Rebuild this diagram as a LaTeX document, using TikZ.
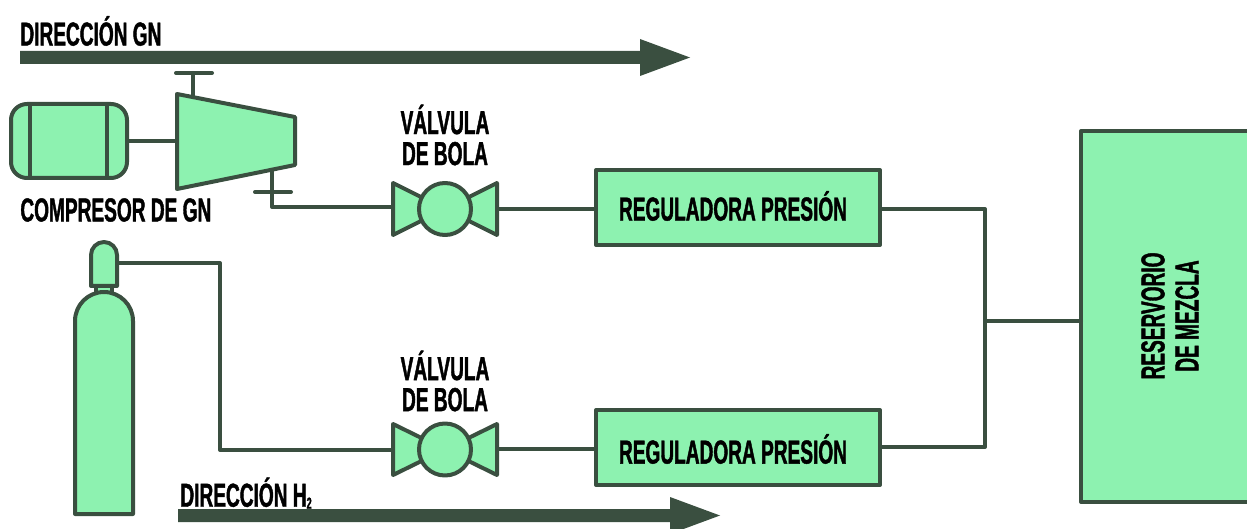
\documentclass[tikz,border=0pt]{standalone}
\usepackage{fontspec}
\setmainfont{Liberation Sans}[BoldFeatures={FakeStretch=0.575,FakeBold=1.2}]
\definecolor{gfill}{HTML}{8DF2B0}
\definecolor{gline}{HTML}{3A4F40}
\tikzset{
  pipe/.style={draw=gline,line width=2pt,line join=round,line cap=round},
  part/.style={pipe,fill=gfill},
  boxnode/.style={part,inner sep=0pt,outer sep=0pt,minimum width=142pt,minimum height=37.5pt},
  ballnode/.style={part,circle,inner sep=0pt,outer sep=0pt,minimum size=26pt},
  label/.style={font=\bfseries\fontsize{16.6}{15.5}\selectfont,text=black,inner sep=0pt,align=center},
  bigarrow/.style={fill=gline,draw=none}
}
\begin{document}
\begin{tikzpicture}[x=0.5pt,y=-0.5pt]
\useasboundingbox (0,0) rectangle (1247,529);
% coordinates
\coordinate (shaftL) at (127,141);
\coordinate (shaftR) at (177,141);
\coordinate (topS) at (193,97);
\coordinate (topB) at (193,73);
\coordinate (botS) at (272,169);
\coordinate (botB) at (272,192);
\coordinate (botC) at (272,207);
\coordinate (valve1L) at (393,207);
\coordinate (valve1R) at (497,209);
\coordinate (valve2L) at (393,450);
\coordinate (valve2R) at (497,449);
\coordinate (h2a) at (118,263);
\coordinate (h2b) at (220,263);
\coordinate (h2c) at (220,450);
\coordinate (j1) at (985,209);
\coordinate (j2) at (985,447);
\coordinate (j3) at (985,321);
% arrows
\fill[bigarrow] (20,51) -- (640,51) -- (640,39) -- (690,57.5) -- (640,76) -- (640,64) -- (20,64) -- cycle;
\fill[bigarrow] (178,509) -- (670,509) -- (670,497) -- (720,515.5) -- (670,534) -- (670,522) -- (178,522) -- cycle;
% boxes
\node[boxnode] (reg1) at (738,207.5) {};
\node[boxnode] (reg2) at (738,447.5) {};
\node[part,inner sep=0pt,outer sep=0pt,minimum width=85pt,minimum height=185.5pt] (tank) at (1166,316.5) {};
% pipes
\draw[pipe] (shaftL) -- (shaftR);
\draw[pipe] (topS) -- (topB);
\draw[pipe] (176,73) -- (212,73);
\draw[pipe] (botS) -- (botC) -- (valve1L);
\draw[pipe] (255,192) -- (291,192);
\draw[pipe] (valve1R) -- (596,209);
\draw[pipe] (valve2R) -- (596,449);
\draw[pipe] (h2a) -- (h2b) -- (h2c) -- (valve2L);
\draw[pipe] (880,209) -- (j1) -- (j2) -- (880,447);
\draw[pipe] (j3) -- (1081,321);
% motor
\draw[part,rounded corners=8pt] (11,104) rectangle (127,178);
\draw[pipe] (30,104) -- (30,178);
\draw[pipe] (107,104) -- (107,178);
% compressor
\draw[part] (177,94) -- (295,117) -- (295,165) -- (177,189) -- cycle;
% valves
\draw[part] (393,183) -- (445,209) -- (393,235) -- cycle;
\draw[part] (497,183) -- (445,209) -- (497,235) -- cycle;
\node[ballnode] (ball1) at (445,209) {};
\draw[part] (393,424) -- (445,449.5) -- (393,475) -- cycle;
\draw[part] (497,424) -- (445,449.5) -- (497,475) -- cycle;
\node[ballnode] (ball2) at (445,449.5) {};
% cylinder
\draw[part] (96,286) rectangle (112,294);
\draw[part] (91,286) -- (91,255) arc[start angle=180,end angle=360,radius=13] -- (117,286) -- cycle;
\draw[part] (75,514) -- (75,321) arc[start angle=180,end angle=360,radius=29] -- (133,514) -- cycle;
% labels
\node[label,anchor=west] (t1) at (20,31) {DIRECCIÓN GN};
\node[label,anchor=west] (t2) at (20,210) {COMPRESOR DE GN};
\node[label] (t3) at (445,135) {VÁLVULA\\DE BOLA};
\node[label] (t4) at (445,381) {VÁLVULA\\DE BOLA};
\node[label,anchor=west] (t5) at (180,493) {DIRECCIÓN H\raisebox{-1pt}{\fontsize{8}{9}\selectfont 2}};
\node[label] (t6) at (733,206) {REGULADORA PRESIÓN};
\node[label] (t7) at (733,449) {REGULADORA PRESIÓN};
\node[label,rotate=90] (t8) at (1170,316) {RESERVORIO\\[1.5pt]DE MEZCLA};
\end{tikzpicture}
\end{document}
